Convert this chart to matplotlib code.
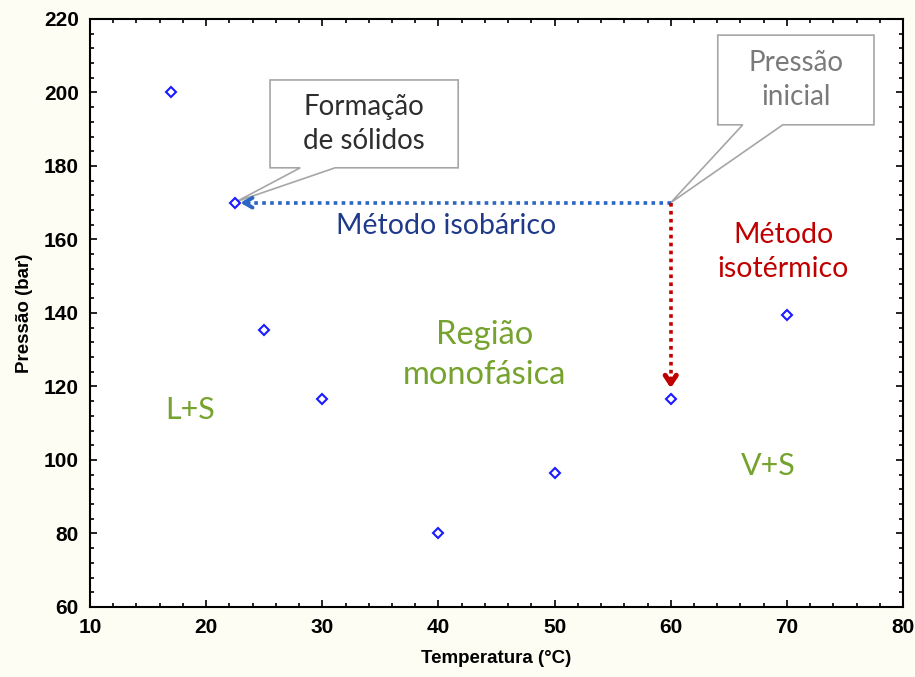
import matplotlib
matplotlib.use("Agg")
import matplotlib.pyplot as plt
from matplotlib.patches import Polygon
from matplotlib.ticker import MultipleLocator

# Measured solid-formation points
temperatura = [17, 22.5, 25, 30, 40, 50, 60, 70]
pressao = [200, 170, 135.5, 116.5, 80, 96.5, 116.5, 139.5]

# Starting condition and end points of the two methods
p_inicial = (60, 170)
fim_isobarico = (22.7, 170)
fim_isotermico = (60, 118.8)

xticks = [10, 20, 30, 40, 50, 60, 70, 80]
yticks = [60, 80, 100, 120, 140, 160, 180, 200, 220]

tick_font = ["Liberation Sans Narrow", "Liberation Sans", "DejaVu Sans"]
note_font = ["Lato", "DejaVu Sans"]

fig = plt.figure(figsize=(9.15, 6.77), dpi=100, facecolor="#fdfdf4")
ax = fig.add_axes([0.0984, 0.1034, 0.8885, 0.8686])
ax.set_facecolor("white")

ax.set_xlim(10, 80)
ax.set_ylim(60, 220)
ax.set_xticks(xticks)
ax.set_yticks(yticks)
ax.xaxis.set_minor_locator(MultipleLocator(2))
ax.yaxis.set_minor_locator(MultipleLocator(4))
ax.tick_params(which="both", direction="in", top=True, right=True, width=1.2, color="black")
ax.tick_params(which="major", length=5)
ax.tick_params(which="minor", length=3)
for s in ax.spines.values():
    s.set_linewidth(1.5)
for lab in ax.get_xticklabels() + ax.get_yticklabels():
    lab.set_fontfamily(tick_font)
    lab.set_fontweight("bold")
    lab.set_fontsize(15)
ax.tick_params(axis="x", pad=8)
ax.tick_params(axis="y", pad=8)

ax.set_xlabel("Temperatura (°C)", family=tick_font, fontweight="bold", fontsize=13.5, labelpad=9)
ax.set_ylabel("Pressão (bar)", family=tick_font, fontweight="bold", fontsize=13.5, labelpad=8)

# Isobaric path (dotted blue) and isothermal path (dotted red)
azul = "#2a66c4"
vermelho = "#c00000"
ax.plot([p_inicial[0], fim_isobarico[0] + 0.6], [p_inicial[1], fim_isobarico[1]],
        ls=(0, (1, 1.2)), lw=2.6, color=azul, zorder=3)
ax.annotate("", xy=fim_isobarico, xytext=(fim_isobarico[0] + 1.2, fim_isobarico[1]),
            arrowprops=dict(arrowstyle="->,head_length=0.6,head_width=0.35", lw=2.8, color=azul),
            zorder=4)
ax.plot([p_inicial[0], fim_isotermico[0]], [p_inicial[1], fim_isotermico[1] + 2],
        ls=(0, (1, 1.2)), lw=2.6, color=vermelho, zorder=3)
ax.annotate("", xy=fim_isotermico, xytext=(fim_isotermico[0], fim_isotermico[1] + 4),
            arrowprops=dict(arrowstyle="->,head_length=0.6,head_width=0.4", lw=3.6, color=vermelho),
            zorder=4)

# Data points
ax.plot(temperatura, pressao, ls="none", marker="D", ms=5.5, mfc="white",
        mec="#1a1aff", mew=1.5, zorder=5)


def callout(ax, x0, x1, y0, y1, wx0, wx1, tip, text, color):
    pts = [(x0, y1), (x1, y1), (x1, y0), (wx1, y0), tip, (wx0, y0), (x0, y0)]
    ax.add_patch(Polygon(pts, closed=True, facecolor="white", edgecolor="#a6a6a6",
                         lw=1.2, zorder=2))
    ax.text((x0 + x1) / 2, (y0 + y1) / 2, text, ha="center", va="center",
            family=note_font, fontsize=20, color=color, linespacing=1.4, zorder=6)


callout(ax, 25.5, 41.7, 179.5, 203.4, 28.1, 31.1, (22.6, 170.3),
        "Formação\nde sólidos", "#2e2e2e")
callout(ax, 64.05, 77.5, 191.2, 215.6, 66.2, 69.65, p_inicial,
        "Pressão\ninicial", "#7a7a7a")

ax.text(40.7, 163.6, "Método isobárico", ha="center", va="center",
        family=note_font, fontsize=20.5, color="#1f3a8a")
ax.text(69.7, 156.6, "Método\nisotérmico", ha="center", va="center",
        family=note_font, fontsize=20.5, color="#c00000", linespacing=1.35)
verde = "#76a22e"
ax.text(44.0, 128.6, "Região\nmonofásica", ha="center", va="center",
        family=note_font, fontsize=23.5, color=verde, linespacing=1.4)
ax.text(18.6, 113.6, "L+S", ha="center", va="center",
        family=note_font, fontsize=22, color=verde)
ax.text(68.4, 98.4, "V+S", ha="center", va="center",
        family=note_font, fontsize=22, color=verde)

fig.savefig("out.png", dpi=100, facecolor=fig.get_facecolor())
